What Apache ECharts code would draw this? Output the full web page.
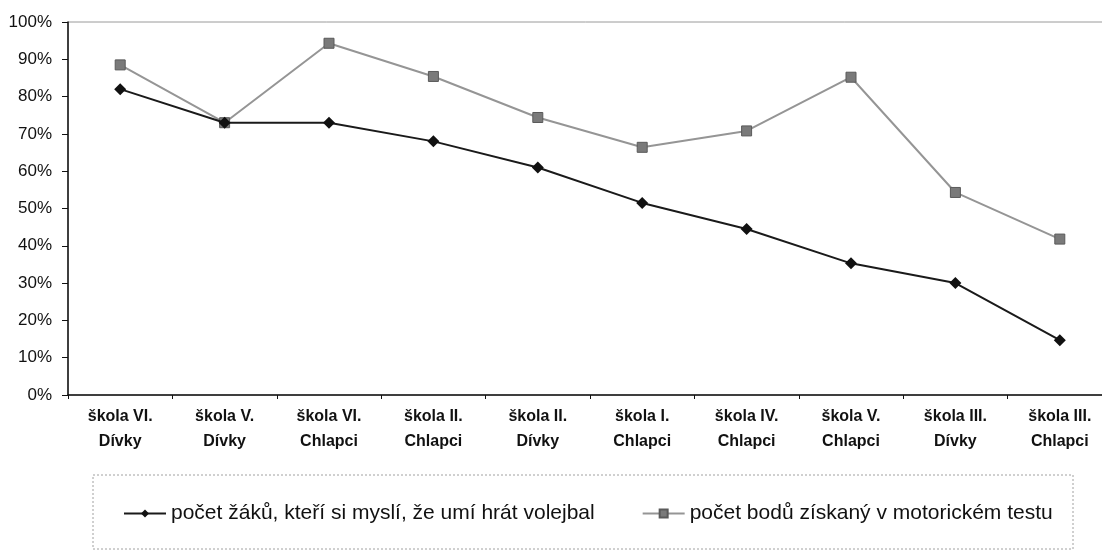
<!DOCTYPE html>
<html>
<head>
<meta charset="utf-8">
<script src="https://cdn.jsdelivr.net/npm/echarts@6/dist/echarts.min.js"></script>
<style>
  html, body { margin: 0; padding: 0; background: #fff; }
  #chart { width: 1102px; height: 552px; }
</style>
</head>
<body>
<div id="chart"></div>
<script>
// categories (schools)
let schools = [
  'škola VI.\nDívky', 'škola V.\nDívky', 'škola VI.\nChlapci', 'škola II.\nChlapci', 'škola II.\nDívky',
  'škola I.\nChlapci', 'škola IV.\nChlapci', 'škola V.\nChlapci', 'škola III.\nDívky', 'škola III.\nChlapci'
]
let seriesNames = ['počet žáků, kteří si myslí, že umí hrát volejbal', 'počet bodů získaný v motorickém testu']
// values in %
let thinkCanPlay = [82, 73, 73, 68, 61, 51.5, 44.5, 35.3, 30, 14.7]
let motorTestPoints = [88.5, 73, 94.3, 85.4, 74.4, 66.4, 70.8, 85.2, 54.3, 41.8]

let chart = echarts.init(document.getElementById('chart'))
let option = {
  animation: false,
  textStyle: { fontFamily: 'Liberation Sans, Arial, sans-serif' },
  grid: {
    left: 68,
    top: 22,
    width: 1044,
    bottom: 157,
    outerBoundsMode: 'none',
    show: true,
    borderColor: '#9a9a9a',
    borderWidth: 1
  },
  legend: {
    left: 118,
    top: 498,
    itemWidth: 42,
    itemHeight: 10,
    itemGap: 47,
    textStyle: { fontSize: 21, color: '#111' },
    data: seriesNames
  },
  graphic: [
    {
      type: 'rect',
      shape: { x: 93, y: 475, width: 980, height: 74 },
      style: { fill: 'none', stroke: '#a0a0a0', lineWidth: 1, lineDash: [2, 2] },
      z: -1
    }
  ],
  xAxis: {
    type: 'category',
    data: schools,
    boundaryGap: true,
    axisLine: { lineStyle: { color: '#111', width: 1.5 } },
    axisTick: { show: true, interval: 0, length: 4, lineStyle: { color: '#111' } },
    axisLabel: {
      interval: 0,
      margin: 9,
      fontSize: 16,
      fontWeight: 'bold',
      lineHeight: 25,
      color: '#111'
    },
    splitLine: { show: false }
  },
  yAxis: {
    type: 'value',
    min: 0,
    max: 100,
    interval: 10,
    axisLine: { show: true, lineStyle: { color: '#111', width: 1.5 } },
    axisTick: { show: true, length: 6, lineStyle: { color: '#111' } },
    axisLabel: {
      formatter: '{value}%',
      fontSize: 17,
      margin: 16,
      color: '#111'
    },
    splitLine: { show: false }
  },
  series: [
    {
      name: seriesNames[0],
      type: 'line',
      data: thinkCanPlay,
      symbol: 'diamond',
      symbolSize: 12,
      lineStyle: { color: '#1a1a1a', width: 2 },
      itemStyle: { color: '#111' },
      z: 3
    },
    {
      name: seriesNames[1],
      type: 'line',
      data: motorTestPoints,
      symbol: 'rect',
      symbolSize: 10,
      lineStyle: { color: '#959595', width: 2 },
      itemStyle: { color: '#7a7a7a', borderColor: '#5a5a5a', borderWidth: 1 },
      z: 2
    }
  ]
}
chart.setOption(option)
</script>
</body>
</html>
